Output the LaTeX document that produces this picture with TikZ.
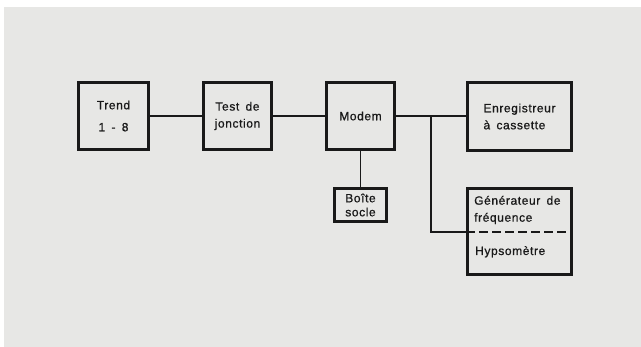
\documentclass[tikz,border=0pt]{standalone}
\usepackage{fontspec}
\setmainfont{Liberation Sans}[LetterSpace=5, WordSpace=1.6, FakeBold=0.8]
\definecolor{ink}{RGB}{25,25,25}
\definecolor{paper}{RGB}{231,231,229}
\begin{document}
\begin{tikzpicture}[x=1pt,y=-1pt,
  box/.style={draw=ink, line width=2.8pt, inner sep=0pt, text=ink,
    font=\fontsize{12}{17}\selectfont, align=center},
  lbox/.style={box, align=left},
  txt/.style={inner sep=0pt, text=ink, font=\fontsize{12}{17}\selectfont, align=left},
  wire/.style={draw=ink, line width=1.3pt},
  dline/.style={draw=ink, line width=1.5pt, dash pattern=on 9pt off 4pt}]
\useasboundingbox (0,0) rectangle (641,347);
\fill[white] (0,0) rectangle (641,347);
\fill[paper] (4,7) rectangle (641,347);
% boxes
\node[box, minimum width=70.2pt, minimum height=67.2pt] (trend) at (113.5,116) {Trend\\[5pt]1 - 8};
\node[box, minimum width=68.2pt, minimum height=67.2pt] (test) at (237.5,116) {Test de\\jonction};
\node[box, minimum width=68.2pt, minimum height=67.2pt] (modem) at (360.5,116) {Modem};
\node[lbox, minimum width=104.2pt, minimum height=68.2pt] (enr) at (519.5,116.5) {Enregistreur\\à cassette};
\node[box, font=\fontsize{12}{14}\selectfont, minimum width=52.2pt, minimum height=33.2pt] (boite) at (360.5,205) {Boîte\\socle};
\node[box, minimum width=104.2pt, minimum height=86.2pt] (gen) at (519.5,231.5) {};
\node[txt, anchor=west] (gentxt) at (474,210) {Générateur de\\fréquence};
\node[txt, anchor=base west] (hyp) at (475,255) {Hypsomètre};
% connectors
\draw[wire] (trend) -- (test);
\draw[wire] (test) -- (modem);
\draw[wire] (modem.east) -- (modem.east -| enr.west);
\draw[wire] (modem.south) -- (boite.north);
\coordinate (br) at (431,116);
\coordinate (bj) at (431,232);
\draw[wire] (br) -- (bj) -- (bj -| gen.west);
\draw[dline] (bj -| gen.west) -- (bj -| gen.east);
\end{tikzpicture}
\end{document}
